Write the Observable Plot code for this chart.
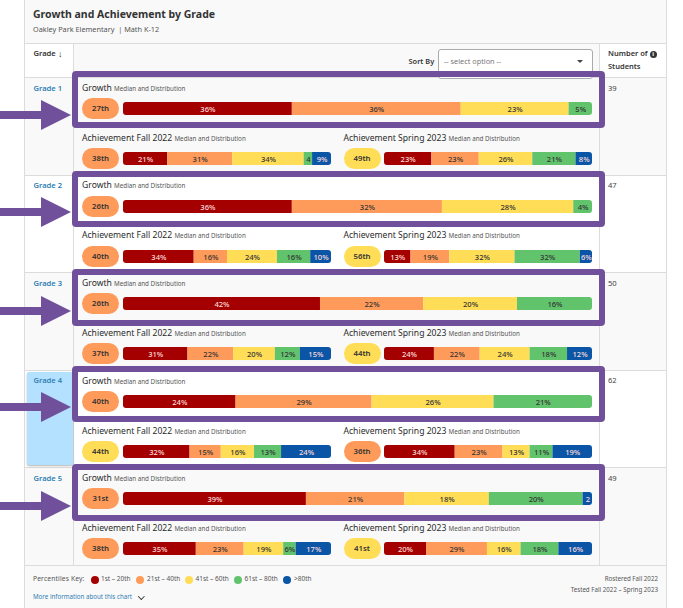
<!DOCTYPE html>
<html>
<head>
<meta charset="utf-8">
<script src="https://cdn.jsdelivr.net/npm/d3@7"></script>
<script src="https://cdn.jsdelivr.net/npm/@observablehq/plot@0.6"></script>
<style>
html,body{margin:0;padding:0;background:#fff;}
#page{position:relative;width:683px;height:608px;overflow:hidden;background:#fff;font-family:"Noto Sans",sans-serif;color:#333;}
#page div,#page span{position:absolute;white-space:nowrap;line-height:1;}
#page span.in{position:static;}
.plotbar svg{display:block;border-radius:3px;overflow:hidden;background:transparent;}
.plotbar figure{margin:0;}
</style>
</head>
<body>
<div id="page"></div>
<script>
// ---- data ----
const grades = ["Grade 1","Grade 2","Grade 3","Grade 4","Grade 5"];
const studentCounts = [39,47,50,62,49];
const bands = ["1st – 20th","21st – 40th","41st – 60th","61st – 80th",">80th"];
const bandColors = ["#a50000","#ff9b5a","#ffdd57","#62c36d","#0a55a5"];
const growthMedians = [27,26,26,40,31];
const fallMedians = [38,40,37,44,38];
const springMedians = [49,56,44,36,41];
const growthValues = [
  [36,36,23,5],
  [36,32,28,4],
  [42,22,20,16],
  [24,29,26,21],
  [39,21,18,20,2]
];
const fallValues = [
  [21,31,34,4,9],
  [34,16,24,16,10],
  [31,22,20,12,15],
  [32,15,16,13,24],
  [35,23,19,6,17]
];
const springValues = [
  [23,23,26,21,8],
  [13,19,32,32,6],
  [24,22,24,18,12],
  [34,23,13,11,19],
  [20,29,16,18,16]
];
const purpleBoxes = [[71,127.5],[171,226.5],[269,325.5],[366,422],[464,521]];
const arrowCenters = [115,212,311,407,506];

// ---- helpers ----
const page = document.getElementById("page");
function box(css, text){
  const el = document.createElement("div");
  el.style.cssText = css;
  if (text !== undefined) el.textContent = text;
  page.appendChild(el);
  return el;
}
const ordinal = n => {
  const t = n % 10, h = n % 100;
  return n + (h>=11&&h<=13 ? "th" : t===1 ? "st" : t===2 ? "nd" : t===3 ? "rd" : "th");
};
const bandOf = d3.scaleThreshold().domain([21,41,61,81]).range(bandColors);

function heading(x, y, title){
  const el = box(`left:${x}px;top:${y-4.3}px;font-size:8.6px;color:#2b2b2b;`);
  el.innerHTML = `<span class="in">${title}</span> <span class="in" style="font-size:6.25px;color:#555;">Median and Distribution</span>`;
}
function pill(x, y, median){
  box(`left:${x}px;top:${y-10.5}px;width:37px;height:21px;border-radius:10.5px;background:${bandOf(median)};
       text-align:center;line-height:21px;font-size:7.8px;font-weight:600;color:#333;`, ordinal(median));
}
function stackedBar(x, y, width, values){
  const data = values.map((value,i)=>({value, band:bands[i]}));
  const total = d3.sum(values);
  const label = d => (d.value/total*width < 12 ? `${d.value}` : `${d.value}%`);
  const isLight = d => d.band===bands[0] || d.band===bands[4];
  const plot = Plot.plot({
    width, height:13, margin:0,
    x:{domain:[0,1],axis:null},
    y:{axis:null},
    color:{domain:bands,range:bandColors},
    style:{fontFamily:'"Noto Sans",sans-serif'},
    marks:[
      Plot.barX(data, Plot.stackX({x:"value",fill:"band",z:"band",offset:"normalize"})),
      Plot.text(data, Plot.stackX({x:"value",z:"band",offset:"normalize",
        text:d=>isLight(d)?label(d):null,fill:"#fbdcdc",fontSize:7.6,fontWeight:500,dy:0.5})),
      Plot.text(data, Plot.stackX({x:"value",z:"band",offset:"normalize",
        text:d=>isLight(d)?null:label(d),fill:"#333",fontSize:7.6,fontWeight:500,dy:0.5}))
    ]
  });
  const host = box(`left:${x}px;top:${y-6.5}px;width:${width}px;height:13px;`);
  host.className = "plotbar";
  host.appendChild(plot);
}

// ---- card chrome ----
const rowTop = 77, rowH = 97.6;
box("left:24px;top:0;width:643px;height:608px;background:#f9f9f9;box-sizing:border-box;border-left:1px solid #dcdcdc;border-right:1px solid #dcdcdc;");
box("left:33px;top:8.5px;font-size:10.5px;font-weight:700;color:#333;","Growth and Achievement by Grade");
box("left:33px;top:25.5px;font-size:7.3px;color:#555;","Oakley Park Elementary  | Math K-12").style.whiteSpace="pre";
box("left:25px;top:43px;width:641px;height:1px;background:#dcdcdc;");
box("left:25px;top:44px;width:48px;height:33px;background:#fff;");
box("left:600px;top:44px;width:66px;height:33px;background:#fff;");

grades.forEach((g,i)=>{
  const t = rowTop + i*rowH;
  if (i%2===1) box(`left:25px;top:${t}px;width:641px;height:${rowH}px;background:#fff;`);
  box(`left:25px;top:${t}px;width:641px;height:1px;background:#dcdcdc;`);
});
box("left:25px;top:565px;width:641px;height:1px;background:#dcdcdc;");
box("left:73px;top:44px;width:1px;height:521px;background:#dcdcdc;");
box("left:599px;top:44px;width:1px;height:521px;background:#dcdcdc;");

// header
box("left:33.5px;top:50px;font-size:7.6px;font-weight:600;color:#333;","Grade");
box("left:58px;top:49px;font-size:9px;color:#333;","↓");
box("left:408.5px;top:58px;font-size:7.4px;font-weight:600;color:#333;","Sort By");
box("left:438px;top:49px;width:155px;height:30px;background:#fff;border:1px solid #aaa;border-radius:3px;box-sizing:border-box;");
box("left:444px;top:58px;font-size:7.3px;color:#777;","-- select option --");
box("left:576.5px;top:60px;width:0;height:0;border-left:3.2px solid transparent;border-right:3.2px solid transparent;border-top:3.4px solid #444;");
box("left:608px;top:50px;font-size:7.5px;font-weight:600;color:#333;","Number of");
box("left:649.5px;top:50.5px;width:7.5px;height:7.5px;border-radius:50%;background:#333;color:#fff;font-size:6px;font-weight:700;text-align:center;line-height:7.5px;","i");
box("left:608px;top:62.5px;font-size:7.5px;font-weight:600;color:#333;","Students");

// highlight behind Grade 4
box(`left:27px;top:372px;width:46px;height:93px;background:#b4e1ff;border-radius:2px;box-shadow:0 1px 2px rgba(0,0,0,.3);`);

// rows
grades.forEach((g,i)=>{
  const t = rowTop + i*rowH;
  box(`left:33.5px;top:${t+7.5}px;font-size:7.6px;font-weight:600;color:#2f7fb5;`, g);
  box(`left:608px;top:${t+7.5}px;font-size:7.6px;color:#444;`, studentCounts[i]);
  const gy = t+31.5, ay = t+81.5;
  heading(82, t+11, "Growth");
  pill(82, gy, growthMedians[i]);
  stackedBar(123, gy, 469, growthValues[i]);
  heading(82, t+61, "Achievement Fall 2022");
  pill(82, ay, fallMedians[i]);
  stackedBar(123, ay, 208, fallValues[i]);
  heading(343.5, t+61, "Achievement Spring 2023");
  pill(343.5, ay, springMedians[i]);
  stackedBar(384, ay, 208, springValues[i]);
});

// purple annotation boxes and arrows
purpleBoxes.forEach(([top,bottom])=>{
  box(`left:72px;top:${top}px;width:533px;height:${bottom-top}px;box-sizing:border-box;border:6.4px solid #70509b;border-radius:4px;`);
});
arrowCenters.forEach(c=>{
  box(`left:0;top:${c-4}px;width:42px;height:8px;background:#70509b;`);
  box(`left:41px;top:${c-15}px;width:30px;height:30px;background:#70509b;clip-path:polygon(0 0,100% 50%,0 100%);`);
});

// footer
box("left:33px;top:576px;font-size:6.7px;color:#555;letter-spacing:.15px;","Percentiles Key:");
const keyDot=[94.7,140,189,238,287], keyText=[101,147,195.5,244.5,294];
bands.forEach((b,i)=>{
  box(`left:${keyDot[i]-4}px;top:575.5px;width:8px;height:8px;border-radius:50%;background:${bandColors[i]};`);
  box(`left:${keyText[i]}px;top:576px;font-size:6.5px;color:#555;`, b);
});
box("left:33px;top:594px;font-size:6.2px;color:#2f7fb5;","More information about this chart");
box("left:138.5px;top:593.5px;width:3.6px;height:3.6px;border-right:1.3px solid #333;border-bottom:1.3px solid #333;transform:rotate(45deg);");
box("right:25px;top:576px;font-size:6.2px;color:#555;","Rostered Fall 2022");
box("right:25px;top:587px;font-size:6.2px;color:#555;","Tested Fall 2022 – Spring 2023");
</script>
</body>
</html>
